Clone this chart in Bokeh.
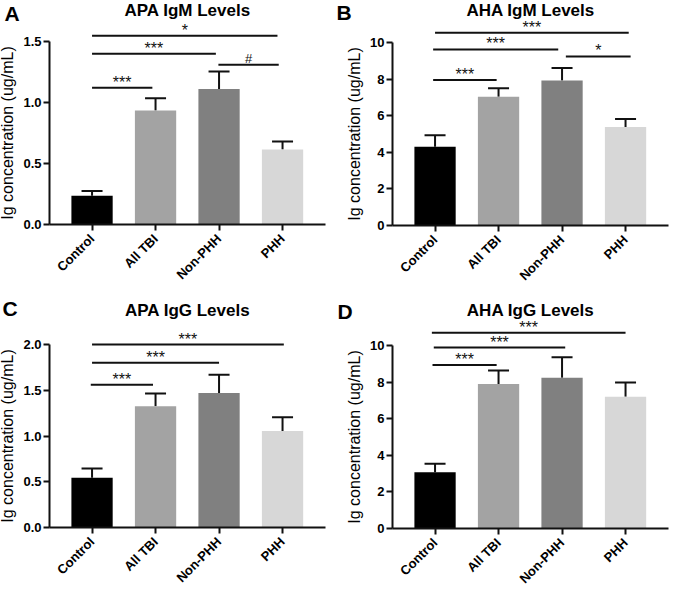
import math
from bokeh.plotting import figure
from bokeh.models import (ColumnDataSource, Range1d, FixedTicker, Whisker, TeeHead,
                          LabelSet, NumeralTickFormatter)
from bokeh.core.properties import value, field
from bokeh.layouts import column, row
from bokeh.embed import file_html
from bokeh.resources import INLINE

FONT = "Liberation Sans"

# ---------------- data ----------------
categories = ["Control", "All TBI", "Non-PHH", "PHH"]
bar_colors = ["#000000", "#a3a3a3", "#808080", "#d7d7d7"]

panel_letters = ["A", "B", "C", "D"]
panel_titles = ["APA IgM Levels", "AHA IgM Levels", "APA IgG Levels", "AHA IgG Levels"]

apa_igm_mean = [0.235, 0.935, 1.11, 0.615]
apa_igm_sem = [0.04, 0.10, 0.145, 0.065]
aha_igm_mean = [4.31, 7.04, 7.93, 5.38]
aha_igm_sem = [0.62, 0.46, 0.67, 0.44]
apa_igg_mean = [0.545, 1.325, 1.47, 1.055]
apa_igg_sem = [0.10, 0.14, 0.20, 0.15]
aha_igg_mean = [3.08, 7.89, 8.24, 7.20]
aha_igg_sem = [0.46, 0.75, 1.12, 0.78]

apa_ticks = [0.0, 0.5, 1.0, 1.5]
apa_igg_ticks = [0.0, 0.5, 1.0, 1.5, 2.0]
aha_ticks = [0, 2, 4, 6, 8, 10]

# significance brackets: start, end (category index), height, mark
a_sig_x0 = [0.0, 0.0, 0.0, 1.99]
a_sig_x1 = [0.95, 1.95, 2.92, 2.94]
a_sig_y = [1.12, 1.40, 1.547, 1.31]
a_sig_txt = ["***", "***", "*", "#"]

b_sig_x0 = [-0.03, -0.03, 2.06, 0.0]
b_sig_x1 = [0.97, 1.94, 3.08, 3.05]
b_sig_y = [7.95, 9.62, 9.24, 10.53]
b_sig_txt = ["***", "***", "*", "***"]

c_sig_x0 = [-0.02, 0.0, 0.0]
c_sig_x1 = [0.96, 2.0, 3.02]
c_sig_y = [1.56, 1.80, 2.0]
c_sig_txt = ["***", "***", "***"]

d_sig_x0 = [-0.04, -0.02, -0.05]
d_sig_x1 = [0.97, 2.05, 3.0]
d_sig_y = [8.94, 9.89, 10.70]
d_sig_txt = ["***", "***", "***"]

# ---------------- layout constants (pixels) ----------------
AX_LO, AX_HI = -0.67, 3.68     # extent of the drawn x axis (category units)
PX_PER_CAT = 63.5
AXIS_LEN = 183.0               # pixel length of the y axis


def panel(letter, title, means, sems, yticks, yfmt, sx0, sx1, sy, stxt,
          width, height, axis_px, y0_px, title_px, letter_px, letter_x_px):
    ymax_axis = yticks[-1]
    ppu = AXIS_LEN / ymax_axis
    x_start = AX_LO - axis_px / PX_PER_CAT
    x_end = x_start + width / PX_PER_CAT
    y_start = -(height - y0_px) / ppu
    y_end = y0_px / ppu

    p = figure(width=width, height=height, title=None,
               x_range=Range1d(x_start, x_end), y_range=Range1d(y_start, y_end),
               output_backend="svg", toolbar_location=None,
               min_border=0, outline_line_color=None,
               background_fill_color="white", border_fill_color="white")
    p.grid.visible = False

    # title and panel letter
    p.text(x=[(AX_LO + AX_HI) / 2], y=[(y0_px - title_px) / ppu], text=[title],
           text_align="center", text_baseline="middle", text_font=value(FONT),
           text_font_size="17px", text_font_style="bold", text_color="#000000")
    p.text(x=[x_start + letter_x_px / PX_PER_CAT], y=[(y0_px - letter_px) / ppu],
           text=[letter], text_align="left", text_baseline="middle",
           text_font=value(FONT), text_font_size="21px",
           text_font_style="bold", text_color="#000000")

    idx = list(range(len(categories)))
    src = ColumnDataSource(dict(x=idx, top=means,
                                up=[m + s for m, s in zip(means, sems)],
                                color=bar_colors))
    p.vbar(x="x", top="top", bottom=0, width=0.65, fill_color="color",
           line_color=None, source=src)
    p.add_layout(Whisker(base="x", lower="top", upper="up", source=src,
                         dimension="height", line_width=2, line_color="#111111",
                         upper_head=TeeHead(size=21, line_width=2, line_color="#111111"),
                         lower_head=None))

    sig = ColumnDataSource(dict(x0=sx0, x1=sx1, y=sy,
                                xm=[(a + b) / 2 for a, b in zip(sx0, sx1)],
                                txt=stxt,
                                fs=["13px" if t == "#" else "16px" for t in stxt],
                                yo=[2 if t == "#" else 0 for t in stxt]))
    p.segment(x0="x0", y0="y", x1="x1", y1="y", line_width=2,
              line_color="#111111", source=sig)
    p.add_layout(LabelSet(x="xm", y="y", text="txt", source=sig,
                          y_offset=field("yo"),
                          text_align="center", text_baseline="alphabetic",
                          text_font=value(FONT), text_font_size=field("fs"),
                          text_color="#111111"))

    # axes
    for ax in (p.xaxis[0], p.yaxis[0]):
        ax.axis_line_width = 2
        ax.axis_line_color = "#111111"
        ax.major_tick_line_width = 2
        ax.major_tick_line_color = "#111111"
        ax.major_tick_out = 6
        ax.major_tick_in = 0
        ax.minor_tick_out = 0
        ax.minor_tick_in = 0
        ax.major_label_text_font = FONT
        ax.major_label_text_font_style = "bold"
        ax.major_label_text_color = "#000000"

    ya = p.yaxis[0]
    ya.fixed_location = AX_LO
    ya.ticker = FixedTicker(ticks=yticks)
    ya.formatter = NumeralTickFormatter(format=yfmt)
    ya.bounds = (0, ymax_axis)
    ya.major_label_text_font_size = "13px"
    ya.major_label_standoff = 2
    ya.axis_label = "Ig concentration (ug/mL)"
    ya.axis_label_text_font = FONT
    ya.axis_label_text_font_size = "16px"
    ya.axis_label_text_font_style = "normal"
    ya.axis_label_text_color = "#000000"
    ya.axis_label_standoff = 4

    xa = p.xaxis[0]
    xa.fixed_location = 0
    xa.bounds = (AX_LO, AX_HI)
    xa.ticker = FixedTicker(ticks=idx)
    xa.major_label_overrides = {i: c for i, c in zip(idx, categories)}
    xa.major_label_orientation = math.pi / 4
    xa.major_label_text_font_size = "13px"
    xa.major_label_standoff = 6
    return p


pA = panel(panel_letters[0], panel_titles[0], apa_igm_mean, apa_igm_sem, apa_ticks, "0.0",
           a_sig_x0, a_sig_x1, a_sig_y, a_sig_txt, 335, 295, 49, 224, 10, 13, 4)
pB = panel(panel_letters[1], panel_titles[1], aha_igm_mean, aha_igm_sem, aha_ticks, "0",
           b_sig_x0, b_sig_x1, b_sig_y, b_sig_txt, 340, 295, 57, 225, 10, 12, 1)
pC = panel(panel_letters[2], panel_titles[2], apa_igg_mean, apa_igg_sem, apa_igg_ticks, "0.0",
           c_sig_x0, c_sig_x1, c_sig_y, c_sig_txt, 335, 296, 49, 232, 15, 13, 2)
pD = panel(panel_letters[3], panel_titles[3], aha_igg_mean, aha_igg_sem, aha_ticks, "0",
           d_sig_x0, d_sig_x1, d_sig_y, d_sig_txt, 340, 296, 57, 233, 15, 16, 2)

layout = column(row(pA, pB), row(pC, pD))

open("out.html", "w").write(file_html(layout, INLINE))
